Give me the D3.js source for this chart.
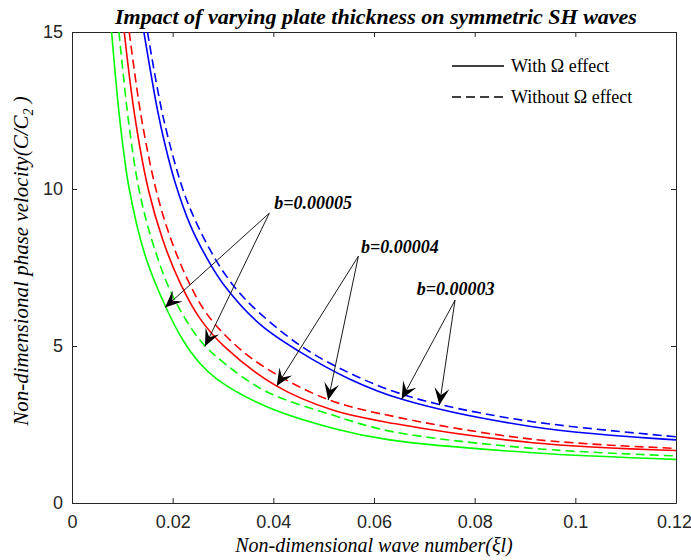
<!DOCTYPE html>
<html lang="en">
<head>
<meta charset="UTF-8">
<script src="https://d3js.org/d3.v7.min.js"></script>
<title>SH waves</title>
<style>
  body { margin: 0; background: #fff; }
  .tick text { font: 18px "Liberation Sans", Arial, sans-serif; fill: #262626; }
  .serif { font-family: "Liberation Serif", "Times New Roman", serif; }
</style>
</head>
<body>
<script>
// curve points: [wave number, phase velocity]
var b5With    = [[0.00787,15],[0.0095,12.2],[0.01137,10],[0.0145,7.9],[0.0186,6.25],[0.022,5.2],[0.0254,4.45],[0.029,3.92],[0.0386,3.07],[0.0518,2.38],[0.0631,2.01],[0.0915,1.60],[0.12,1.39]];
var b5Without = [[0.00933,15],[0.0112,12.2],[0.0133,10],[0.016,8.3],[0.02,6.6],[0.0254,5.19],[0.0303,4.45],[0.0386,3.55],[0.0518,2.80],[0.0631,2.29],[0.0915,1.74],[0.12,1.50]];
var b4With    = [[0.01038,15],[0.0124,12.4],[0.01514,10],[0.018,8.4],[0.0215,7.0],[0.0254,5.88],[0.0303,4.98],[0.0406,3.73],[0.0518,2.96],[0.064,2.53],[0.0915,1.92],[0.12,1.67]];
var b4Without = [[0.01137,15],[0.0137,12.35],[0.01666,10],[0.0195,8.47],[0.023,7.1],[0.0267,6.04],[0.032,5.1],[0.0386,4.29],[0.0508,3.30],[0.065,2.72],[0.0915,2.03],[0.12,1.74]];
var b3With    = [[0.01428,15],[0.0170,12.5],[0.0185,11.4],[0.0205,10.2],[0.0235,8.85],[0.0268,7.8],[0.0303,6.92],[0.0375,5.67],[0.0452,4.82],[0.055,3.96],[0.0654,3.31],[0.0915,2.43],[0.12,2.01]];
var b3Without = [[0.0150,15],[0.0181,12.3],[0.0220,10],[0.0245,9.0],[0.0273,8.1],[0.0303,7.31],[0.0346,6.46],[0.0452,5.03],[0.055,4.15],[0.064,3.55],[0.073,3.14],[0.0915,2.59],[0.12,2.11]];

var xTicks = [0, 0.02, 0.04, 0.06, 0.08, 0.1, 0.12];
var yTicks = [0, 5, 10, 15];

// annotations: label position, arrow start and arrow tips (data units)
var notes = [
  {label: "b=0.00005", at: [0.0402, 9.36], from: [0.0392, 9.23], tips: [[0.01848, 6.23], [0.02642, 4.99]]},
  {label: "b=0.00004", at: [0.0574, 7.97], from: [0.0569, 7.86], tips: [[0.04067, 3.73], [0.0509, 3.28]]},
  {label: "b=0.00003", at: [0.0685, 6.62], from: [0.0761, 6.46], tips: [[0.0655, 3.31], [0.073, 3.12]]}
];

var series = [
  {pts: b5With, color: "#00ff00", dash: null},
  {pts: b5Without, color: "#00ff00", dash: "9,5"},
  {pts: b4With, color: "#ff0000", dash: null},
  {pts: b4Without, color: "#ff0000", dash: "9,5"},
  {pts: b3With, color: "#0000ff", dash: null},
  {pts: b3Without, color: "#0000ff", dash: "9,5"}
];

var W = 691, H = 560;
var margin = {top: 32, right: 15, bottom: 57, left: 72},
    width = W - margin.left - margin.right,
    height = H - margin.top - margin.bottom;

var svg = d3.select("body").append("svg")
    .attr("width", W)
    .attr("height", H);

var defs = svg.append("defs");
defs.append("clipPath").attr("id", "clip")
  .append("rect").attr("width", width).attr("height", height);

// notched arrow head
defs.append("marker")
    .attr("id", "head")
    .attr("markerUnits", "userSpaceOnUse")
    .attr("viewBox", "-18 -9 19 18")
    .attr("markerWidth", 19)
    .attr("markerHeight", 18)
    .attr("refX", 0)
    .attr("refY", 0)
    .attr("orient", "auto")
  .append("path")
    .attr("d", "M0,0 L-17,-7.5 L-10,0 L-17,7.5 Z")
    .attr("fill", "#000");

var g = svg.append("g")
    .attr("transform", "translate(" + margin.left + "," + margin.top + ")");

var x = d3.scaleLinear().domain([0, 0.12]).range([0, width]);
var y = d3.scaleLinear().domain([0, 15]).range([height, 0]);

// axes, ticks pointing inwards, box on
g.append("g")
    .attr("transform", "translate(0," + height + ")")
    .call(d3.axisBottom(x).tickValues(xTicks).tickSizeInner(-5).tickSizeOuter(0).tickPadding(12).tickFormat(d3.format("")))
  .selectAll(".tick text")
    .attr("dx", function(d) { return d === 0.12 ? -2 : 0; });
g.append("g")
    .call(d3.axisLeft(y).tickValues(yTicks).tickSizeInner(-5).tickSizeOuter(0).tickPadding(9));
g.append("g")
    .call(d3.axisTop(x).tickValues(xTicks).tickSizeInner(-5).tickSizeOuter(0).tickFormat(""));
g.append("g")
    .attr("transform", "translate(" + width + ",0)")
    .call(d3.axisRight(y).tickValues(yTicks).tickSizeInner(-5).tickSizeOuter(0).tickFormat(""));
g.selectAll(".domain, .tick line").attr("stroke", "#262626");

// curves
var line = d3.line()
    .x(function(d) { return x(d[0]); })
    .y(function(d) { return y(d[1]); })
    .curve(d3.curveCatmullRom.alpha(0.5));

g.append("g").attr("clip-path", "url(#clip)")
  .selectAll("path.curve")
  .data(series)
  .enter().append("path")
    .attr("class", "curve")
    .attr("d", function(d) { return line(d.pts); })
    .attr("fill", "none")
    .attr("stroke", function(d) { return d.color; })
    .attr("stroke-width", 1.6)
    .attr("stroke-dasharray", function(d) { return d.dash; });

// annotations
notes.forEach(function(n) {
  n.tips.forEach(function(t) {
    g.append("line")
      .attr("x1", x(n.from[0])).attr("y1", y(n.from[1]))
      .attr("x2", x(t[0])).attr("y2", y(t[1]))
      .attr("stroke", "#000")
      .attr("stroke-width", 0.9)
      .attr("marker-end", "url(#head)");
  });
  g.append("text")
    .attr("class", "serif")
    .attr("x", x(n.at[0])).attr("y", y(n.at[1]))
    .style("font-size", "18px")
    .style("font-weight", "bold")
    .style("font-style", "italic")
    .text(n.label);
});

// legend
var legend = g.append("g").attr("transform", "translate(380,34)");
[{label: "With \u03a9 effect", dash: null}, {label: "Without \u03a9 effect", dash: "9,5"}].forEach(function(d, i) {
  legend.append("line")
    .attr("x1", 0).attr("x2", 52)
    .attr("y1", i * 31).attr("y2", i * 31)
    .attr("stroke", "#000").attr("stroke-width", 1.4)
    .attr("stroke-dasharray", d.dash);
  legend.append("text")
    .attr("class", "serif")
    .attr("x", 59).attr("y", i * 31 + 6)
    .style("font-size", "18px")
    .text(d.label);
});

// title and axis labels
svg.append("text")
    .attr("class", "serif")
    .attr("x", margin.left + width / 2 + 2)
    .attr("y", 24)
    .attr("text-anchor", "middle")
    .style("font-size", "22px")
    .style("font-weight", "bold")
    .style("font-style", "italic")
    .text("Impact of varying plate thickness on symmetric SH waves");

svg.append("text")
    .attr("class", "serif")
    .attr("x", margin.left + width / 2)
    .attr("y", 552)
    .attr("text-anchor", "middle")
    .style("font-size", "20px")
    .style("font-style", "italic")
    .text("Non-dimensional wave number(\u03bel)");

var yl = svg.append("text")
    .attr("class", "serif")
    .attr("transform", "translate(28,261) rotate(-90)")
    .attr("text-anchor", "middle")
    .style("font-size", "21px")
    .style("font-style", "italic");
yl.append("tspan").text("Non-dimensional phase velocity(C/C");
yl.append("tspan").attr("dy", 5).style("font-size", "14px").text("2");
yl.append("tspan").attr("dy", -5).text(" )");
</script>
</body>
</html>
